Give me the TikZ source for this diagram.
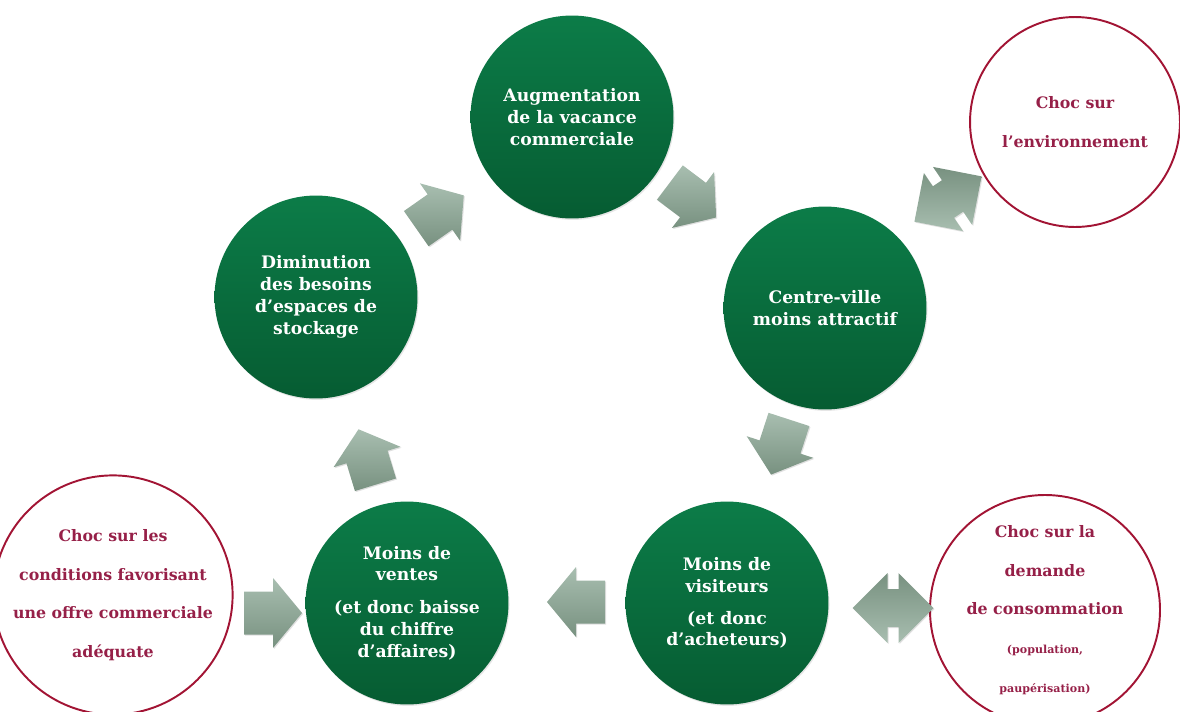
\documentclass[tikz,border=0pt]{standalone}
\usepackage{fontspec}
\setmainfont{DejaVu Serif}
\usepackage{tikz}
\usetikzlibrary{positioning,calc,shadows}
\definecolor{cyclegreen}{RGB}{12,124,72}
\definecolor{cyclegreendark}{RGB}{6,92,50}
\definecolor{arrowlight}{RGB}{168,190,176}
\definecolor{arrowdark}{RGB}{120,145,128}
\definecolor{shockred}{RGB}{162,20,52}
\definecolor{shocktext}{RGB}{150,32,72}

% block arrow: name, centre, direction
\newcommand{\flowarrow}[3]{%
  \coordinate (#1) at (#2);
  \shade[flowshade] ($(#1)+(#3:-0.58cm)+(#3+90:-0.43cm)$) -- ($(#1)+(#3+90:-0.43cm)$)
    -- ($(#1)+(#3+90:-0.70cm)$) -- ($(#1)+(#3:0.58cm)$) -- ($(#1)+(#3+90:0.70cm)$)
    -- ($(#1)+(#3+90:0.43cm)$) -- ($(#1)+(#3:-0.58cm)+(#3+90:0.43cm)$) -- cycle;}
% two-headed block arrow: name, centre, direction
\newcommand{\linkarrow}[3]{%
  \coordinate (#1) at (#2);
  \shade[linkshade] ($(#1)+(#3:0.81cm)$) -- ($(#1)+(#3:0.11cm)+(#3+90:0.70cm)$)
    -- ($(#1)+(#3:0.11cm)+(#3+90:0.38cm)$) -- ($(#1)+(#3:-0.11cm)+(#3+90:0.38cm)$)
    -- ($(#1)+(#3:-0.11cm)+(#3+90:0.70cm)$) -- ($(#1)+(#3:-0.81cm)$)
    -- ($(#1)+(#3:-0.11cm)+(#3+90:-0.70cm)$) -- ($(#1)+(#3:-0.11cm)+(#3+90:-0.38cm)$)
    -- ($(#1)+(#3:0.11cm)+(#3+90:-0.38cm)$) -- ($(#1)+(#3:0.11cm)+(#3+90:-0.70cm)$) -- cycle;}

\begin{document}
\begin{tikzpicture}[x=0.02cm, y=-0.02cm,
    stage/.style={circle, top color=cyclegreen, bottom color=cyclegreendark, minimum size=4.06cm, inner sep=0pt, align=center, text=white, font=\bfseries\fontsize{9.8}{12.5}\selectfont, drop shadow={opacity=0.2, shadow xshift=0.6pt, shadow yshift=-0.8pt}},
    shock/.style={circle, draw=shockred, line width=1.1pt, minimum size=4.2cm, inner sep=0pt, align=center, text=shocktext, font=\bfseries\fontsize{9}{22}\selectfont},
    flowshade/.style={top color=arrowlight, bottom color=arrowdark, preaction={fill=black, opacity=0.12, transform canvas={shift={(0.6pt,-0.6pt)}}}},
    linkshade/.style={top color=arrowdark, bottom color=arrowlight, preaction={fill=black, opacity=0.12, transform canvas={shift={(0.6pt,-0.6pt)}}}}
]
\useasboundingbox (0,0) rectangle (1180,711);

% Cycle
\node[stage] (aug) at (572,117) {Augmentation\\de la vacance\\commerciale};
\node[stage] (ville) at (825,308) {Centre-ville\\moins attractif};
\node[stage] (visit) at (727,603) {Moins de\\visiteurs\\[5.5pt](et donc\\d’acheteurs)};
\node[stage] (ventes) at (407,603) {Moins de\\ventes\\[6pt](et donc baisse\\du chiffre\\d’affaires)};
\node[stage] (dim) at (316,297) {Diminution\\des besoins\\d’espaces de\\stockage};

% Shocks
\node[shock] (env) at (1075,122) {Choc sur\\l’environnement};
\node[shock] (offre) at (113,595) {Choc sur les\\conditions favorisant\\une offre commerciale\\adéquate};
\node[shock] (demande) at (1045,610) {Choc sur la\\demande\\de consommation\\{\fontsize{6.3}{22}\selectfont(population,}\\{\fontsize{6.3}{22}\selectfont paupérisation)}};

% Arrows
\flowarrow{f1}{440,212}{35}
\flowarrow{f2}{693,200}{-37}
\flowarrow{f3}{780,447}{-108}
\flowarrow{f4}{576,602}{180}
\flowarrow{f5}{367,457}{107}
\flowarrow{f6}{273,613}{0}
\linkarrow{l1}{948,199}{34}
\linkarrow{l2}{893,608}{0}
\end{tikzpicture}
\end{document}
